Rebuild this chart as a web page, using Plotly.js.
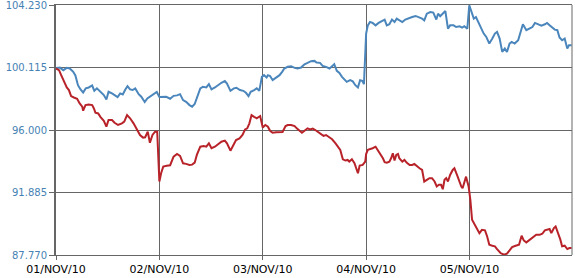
<!DOCTYPE html>
<html>
<head>
<meta charset="utf-8">
<script src="https://cdn.plot.ly/plotly-3.0.1.min.js"></script>
<style>html,body{margin:0;padding:0;background:#fff;}#chart{width:575px;height:278px;}</style>
</head>
<body>
<div id="chart"></div>
<script>
// hours since 01/NOV/10 00:00
const blueHours = [0,0.9,1.7,2.5,3.2,4.0,4.5,5.1,5.7,6.3,6.9,7.6,8.4,8.9,9.5,10.3,11.1,11.7,12.2,13.0,13.8,14.3,14.9,15.5,16.1,16.6,17.2,17.8,18.4,19.2,19.8,20.6,21.2,22.0,22.8,23.4,
24.0,24.8,25.6,26.5,27.3,28.1,28.8,29.5,30.2,31.0,31.6,32.2,32.7,33.5,34.1,34.9,35.5,36.1,36.9,37.6,38.4,39.2,39.7,40.5,41.3,41.9,42.7,43.5,44.1,44.7,45.2,46.0,46.6,47.2,47.8,
48.3,48.9,49.2,49.7,50.3,51.1,51.9,52.5,53.0,53.8,54.6,55.4,56.1,56.9,57.7,58.4,59.2,60.0,60.5,61.3,61.9,62.7,63.5,64.1,64.6,65.2,65.8,66.4,67.0,67.5,68.3,68.9,69.5,70.1,70.6,71.1,71.5,
72.0,72.4,72.9,73.5,74.2,74.9,75.7,76.3,76.8,77.4,78.0,78.6,79.1,79.7,80.4,81.1,81.9,82.7,83.5,84.2,85.0,85.5,86.1,86.9,87.6,88.3,88.7,89.2,89.8,90.4,91.0,91.5,92.3,92.9,93.7,94.3,94.8,95.5,
95.95,96.5,97.0,97.5,98.2,98.8,99.3,99.9,100.6,101.3,101.9,102.4,103.0,103.6,104.2,104.7,105.3,105.8,106.5,107.3,107.8,108.4,109.2,109.9,110.6,111.2,111.9,112.7,113.5,114.0,114.6,115.2,115.8,116.4,116.9,117.5,118.1,118.7,119.1,119.7];
const blueValues = [100.09,100.11,99.94,100.09,100.05,99.83,99.59,98.95,98.67,98.47,98.74,98.80,98.93,98.58,98.74,98.52,98.30,98.01,98.52,98.41,98.25,98.17,98.41,98.34,98.67,98.89,98.67,98.63,98.74,98.36,98.19,97.84,98.08,98.23,98.41,98.50,
98.17,98.19,98.19,98.06,98.25,98.28,98.36,97.97,97.86,97.64,97.53,97.71,98.08,98.74,98.84,98.80,99.02,98.67,98.80,98.95,99.11,99.22,99.06,98.58,98.74,98.78,98.63,98.58,98.45,98.23,98.52,98.63,98.74,98.58,99.50,
99.61,99.46,99.61,99.55,99.28,99.46,99.61,99.83,100.05,100.16,100.20,100.09,100.05,100.11,100.33,100.42,100.53,100.55,100.44,100.42,100.22,100.16,100.05,100.20,100.33,99.90,99.76,99.50,99.28,99.17,99.28,99.20,98.95,98.80,99.28,99.24,99.02,
102.35,102.89,103.11,103.05,102.89,103.05,103.18,103.27,102.89,102.96,103.27,103.11,103.33,103.22,103.11,103.27,103.33,103.44,103.51,103.44,103.33,103.22,103.66,103.77,103.73,103.27,103.66,103.49,103.66,103.83,102.67,102.89,102.89,102.78,102.83,102.74,102.83,102.67,
104.21,103.66,103.33,103.44,103.00,102.57,102.35,102.13,101.69,102.02,102.35,102.46,102.02,101.14,101.36,101.14,101.69,101.80,101.69,101.91,102.35,102.96,102.57,102.67,102.78,103.05,102.96,102.87,102.96,103.05,102.89,102.74,102.61,102.57,102.09,101.91,102.02,101.36,101.58,101.58];

const redHours = [0,0.7,1.2,1.85,2.5,3.0,3.5,4.15,4.9,5.5,6.1,6.3,6.85,7.6,8.4,8.8,9.15,9.8,10.3,11.1,11.7,12.2,13.0,13.6,14.4,15.3,15.85,16.5,17.2,18.0,18.8,19.5,20.2,20.7,21.3,21.8,22.4,23.0,23.5,
24.0,24.4,24.9,25.7,26.5,27.3,28.1,28.8,29.5,30.2,31.0,31.6,32.2,32.7,33.5,34.3,34.9,35.5,36.1,36.9,37.6,38.4,39.2,39.7,40.5,41.1,41.8,42.6,43.3,43.9,44.4,44.9,45.4,46.0,46.6,47.4,
48.0,48.6,49.2,49.7,50.3,51.1,51.9,52.6,53.3,53.8,54.6,55.4,55.9,56.5,57.1,57.7,58.4,59.0,59.6,60.2,60.8,61.5,62.1,62.7,63.3,64.1,64.9,65.4,66.0,66.6,67.2,67.7,68.1,68.7,69.3,69.7,70.1,70.5,71.2,71.8,
72.0,72.4,72.9,73.5,74.2,74.7,75.3,75.9,76.3,76.8,77.4,77.8,78.2,78.6,79.0,79.4,79.7,80.4,80.9,81.4,82.1,82.7,83.2,83.8,84.4,85.0,85.5,86.1,86.7,87.3,87.9,88.4,88.9,89.4,89.8,90.2,90.6,91.0,91.5,92.1,92.5,93.1,93.7,94.1,94.4,94.8,95.2,95.8,
96.2,96.6,97.2,97.8,98.3,98.9,99.6,100.1,100.6,101.3,101.9,102.4,103.2,104.0,104.7,105.3,105.9,106.7,107.5,108.1,108.6,109.2,109.8,110.4,110.9,111.5,112.3,112.9,113.5,114.0,114.6,115.0,115.6,116.0,116.6,117.1,117.5,118.1,118.7,119.2,119.7];
const redValues = [100.05,99.94,99.61,99.17,98.80,98.63,98.23,98.14,98.06,97.75,97.53,97.27,97.64,97.68,97.64,97.42,97.14,97.09,96.87,96.61,96.22,96.66,96.66,96.48,96.33,96.44,96.55,96.98,96.77,96.44,96.00,95.67,95.50,95.52,95.89,95.16,95.67,95.89,95.89,
92.61,93.15,93.59,93.64,93.68,94.25,94.42,94.29,93.81,93.77,93.70,93.72,93.85,94.36,94.90,94.95,94.90,95.12,94.80,94.90,95.08,95.23,95.30,95.12,94.64,94.95,95.34,95.45,95.67,96.04,96.11,96.44,96.98,96.87,96.77,96.92,
96.17,96.33,96.22,95.95,95.82,95.85,95.85,95.87,96.26,96.33,96.33,96.26,96.11,95.95,95.82,95.95,96.11,96.04,96.09,96.00,95.89,95.74,95.61,95.67,95.56,95.39,95.12,94.90,94.69,94.07,93.99,94.03,93.92,94.07,93.81,93.48,93.15,93.66,93.70,93.92,
94.42,94.69,94.73,94.80,94.90,94.69,94.42,94.14,93.88,93.85,93.92,94.14,94.47,93.99,94.36,94.42,94.14,93.92,94.03,93.85,93.70,93.70,93.77,93.59,93.48,93.37,92.61,92.72,92.83,92.83,92.61,92.28,92.39,92.39,92.10,92.72,92.83,92.61,93.04,93.37,93.48,93.04,92.50,92.28,92.17,92.61,92.93,92.28,
91.40,90.09,89.76,89.43,89.21,89.43,89.39,88.99,88.45,88.38,88.34,88.16,87.90,87.79,87.86,88.07,88.29,88.38,88.45,89.04,88.73,88.60,88.73,88.89,88.99,89.10,89.10,89.17,89.39,89.43,89.48,89.21,89.54,89.65,89.21,88.78,88.34,88.38,88.16,88.23,88.23];

const xTickVals = [0,24,48,72,96];
const xTickText = ['01/NOV/10','02/NOV/10','03/NOV/10','04/NOV/10','05/NOV/10'];
const yTickVals = [87.770,91.885,96.000,100.115,104.230];
const yTickText = ['87.770','91.885','96.000','100.115','104.230'];

const traces = [
  {x: blueHours, y: blueValues, type: 'scatter', mode: 'lines', line: {color: '#4a86bb', width: 2}, hoverinfo: 'skip'},
  {x: redHours, y: redValues, type: 'scatter', mode: 'lines', line: {color: '#b8232a', width: 2}, hoverinfo: 'skip'}
];

const layout = {
  width: 575, height: 278,
  margin: {l: 56, r: 3, t: 5, b: 23, pad: 0},
  paper_bgcolor: '#fff', plot_bgcolor: '#fff',
  showlegend: false,
  font: {family: 'DejaVu Sans, Verdana, sans-serif', size: 11, color: '#000'},
  xaxis: {
    range: [0, 119.8], tickvals: xTickVals, ticktext: xTickText,
    showgrid: true, gridcolor: '#666', gridwidth: 1,
    showline: true, linecolor: '#666', linewidth: 1, mirror: true,
    ticks: 'outside', ticklen: 4, tickcolor: '#666', tickwidth: 1,
    tickfont: {color: '#000', size: 11}, zeroline: false, fixedrange: true,
    ticklabeloverflow: 'allow'
  },
  yaxis: {
    range: [87.77, 104.23], tickvals: yTickVals, ticktext: yTickText,
    showgrid: true, gridcolor: '#666', gridwidth: 1,
    showline: true, linecolor: '#666', linewidth: 2,
    ticks: 'outside', ticklen: 5, tickcolor: '#666', tickwidth: 1,
    tickfont: {color: '#4682b4', size: 10}, zeroline: false, fixedrange: true,
    ticklabeloverflow: 'allow'
  },
  shapes: [
    {type: 'line', xref: 'paper', yref: 'paper', x0: 1, x1: 1, y0: 0, y1: 1, line: {color: '#666', width: 1}}
  ]
};

Plotly.newPlot('chart', traces, layout, {displayModeBar: false, staticPlot: true});
</script>
</body>
</html>
